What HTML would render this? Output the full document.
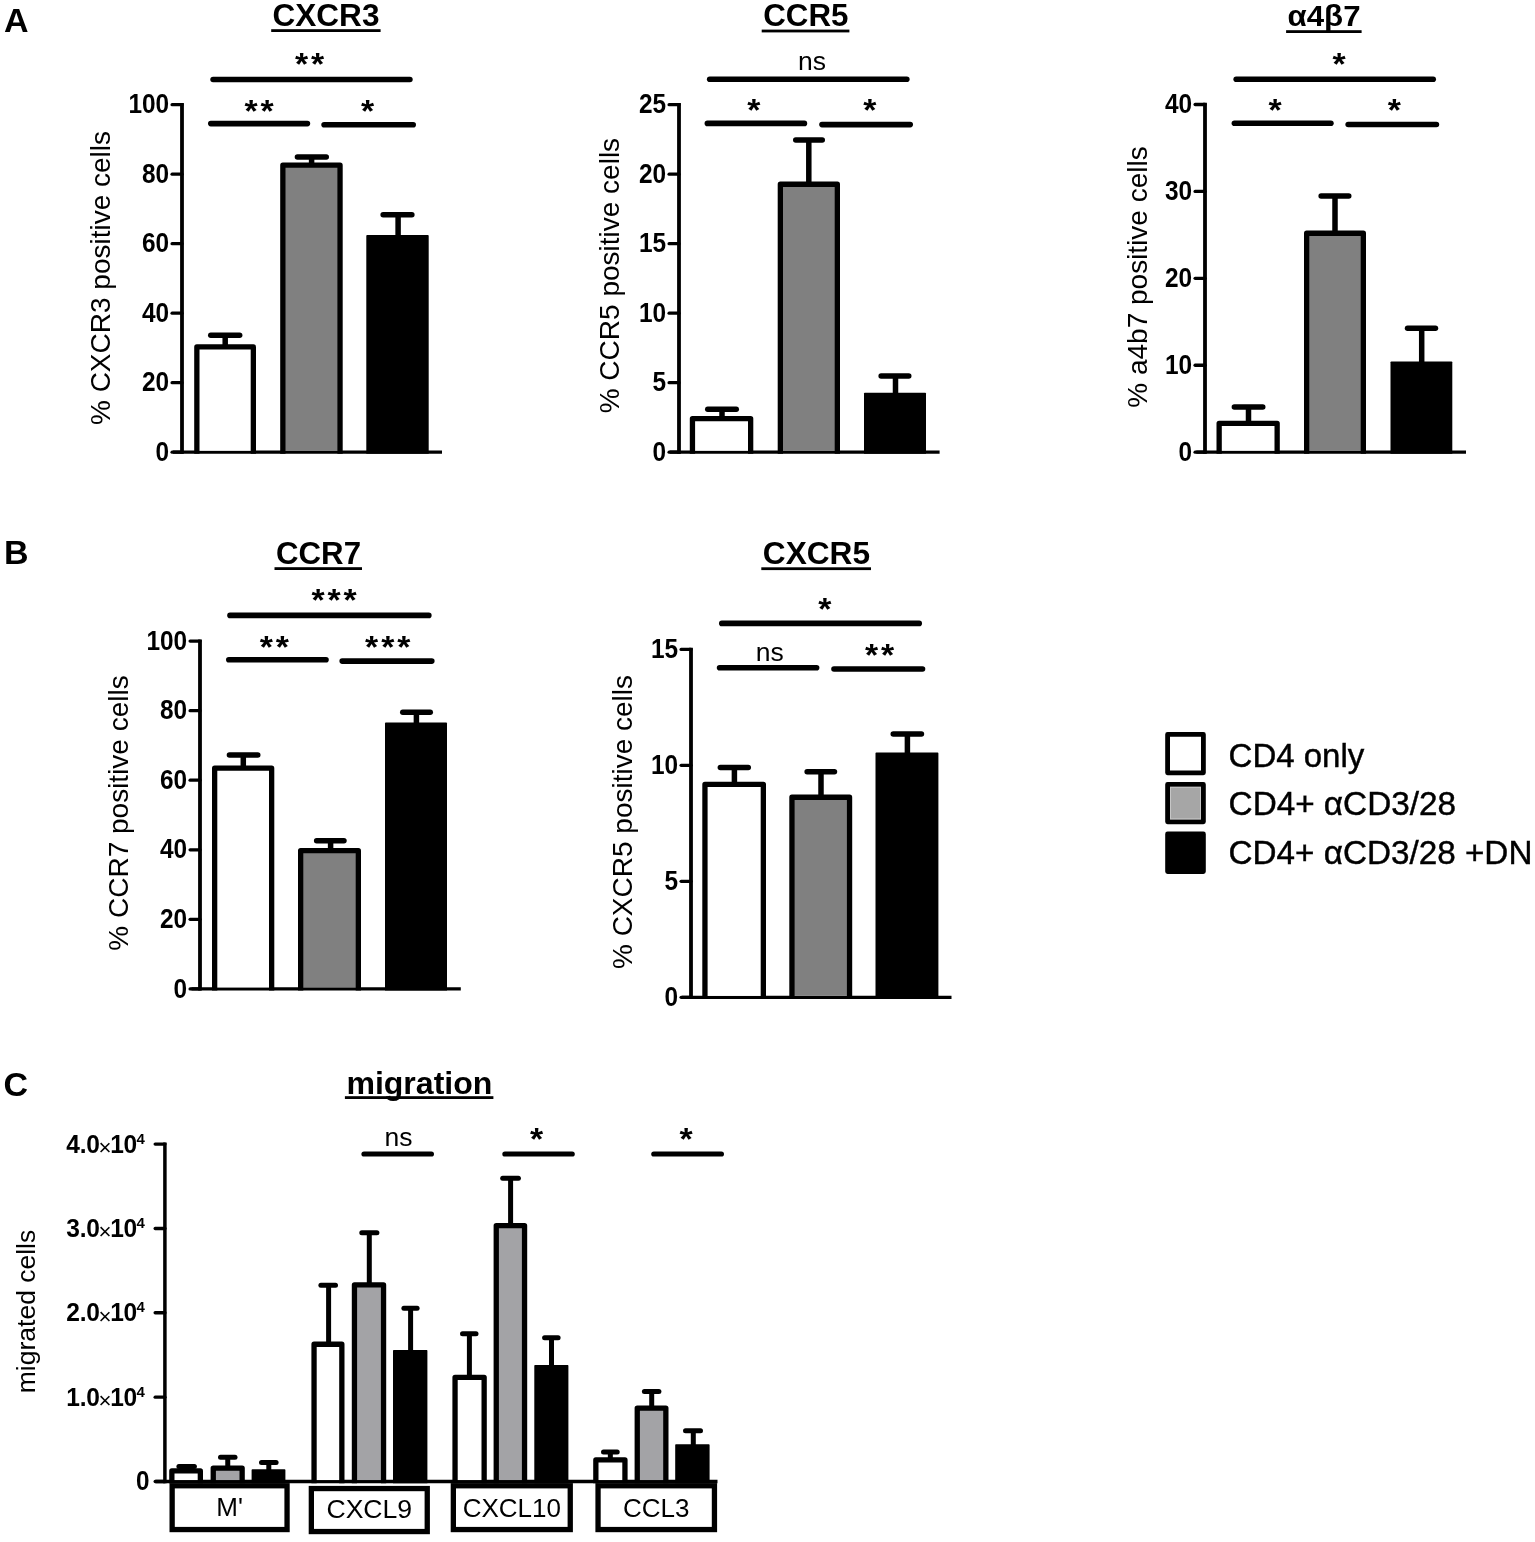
<!DOCTYPE html>
<html lang="en">
<head>
<meta charset="utf-8">
<title>Figure</title>
<style>
html,body{margin:0;padding:0;background:#fff;}
body{width:1535px;height:1542px;overflow:hidden;}
svg{display:block;}
svg text{font-family:"Liberation Sans", Arial, Helvetica, sans-serif;fill:#000;}
</style>
</head>
<body>
<svg width="1535" height="1542" viewBox="0 0 1535 1542">
<rect width="1535" height="1542" fill="#fff"/>
<text x="4.00" y="31.80" font-size="34" font-weight="bold" text-anchor="start" >A</text>
<text x="326.00" y="26.40" font-size="31" font-weight="bold" text-anchor="middle" textLength="106.9" lengthAdjust="spacingAndGlyphs">CXCR3</text>
<rect x="271.20" y="29.20" width="109.40" height="2.8" fill="#000"/>
<path d="M182.00 103.05V453.85" stroke="#000" stroke-width="3.8" fill="none"/>
<path d="M173.00 452.20H442.00" stroke="#000" stroke-width="3.3" fill="none"/>
<path d="M172.10 452.20H182.00" stroke="#000" stroke-width="3.3" stroke-linecap="round" fill="none"/>
<text transform="translate(169.10 460.80) scale(0.872 1)" font-size="28" font-weight="bold" text-anchor="end">0</text>
<path d="M172.10 382.70H182.00" stroke="#000" stroke-width="3.3" stroke-linecap="round" fill="none"/>
<text transform="translate(169.10 391.30) scale(0.872 1)" font-size="28" font-weight="bold" text-anchor="end">20</text>
<path d="M172.10 313.20H182.00" stroke="#000" stroke-width="3.3" stroke-linecap="round" fill="none"/>
<text transform="translate(169.10 321.80) scale(0.872 1)" font-size="28" font-weight="bold" text-anchor="end">40</text>
<path d="M172.10 243.70H182.00" stroke="#000" stroke-width="3.3" stroke-linecap="round" fill="none"/>
<text transform="translate(169.10 252.30) scale(0.872 1)" font-size="28" font-weight="bold" text-anchor="end">60</text>
<path d="M172.10 174.20H182.00" stroke="#000" stroke-width="3.3" stroke-linecap="round" fill="none"/>
<text transform="translate(169.10 182.80) scale(0.872 1)" font-size="28" font-weight="bold" text-anchor="end">80</text>
<path d="M172.10 104.70H182.00" stroke="#000" stroke-width="3.3" stroke-linecap="round" fill="none"/>
<text transform="translate(169.10 113.30) scale(0.872 1)" font-size="28" font-weight="bold" text-anchor="end">100</text>
<rect x="196.85" y="346.95" width="56.50" height="103.80" fill="#fff"/>
<path d="M196.85 453.85V346.95H253.35V453.85" fill="none" stroke="#000" stroke-width="5.3" stroke-linejoin="round"/>
<path d="M225.20 346.30V335.20" stroke="#000" stroke-width="5.5" fill="none"/>
<path d="M210.75 335.20H239.65" stroke="#000" stroke-width="5.5" stroke-linecap="round" fill="none"/>
<rect x="282.85" y="165.15" width="57.20" height="285.60" fill="#808080"/>
<path d="M282.85 453.85V165.15H340.05V453.85" fill="none" stroke="#000" stroke-width="5.3" stroke-linejoin="round"/>
<path d="M311.60 164.50V157.00" stroke="#000" stroke-width="5.5" fill="none"/>
<path d="M297.45 157.00H326.25" stroke="#000" stroke-width="5.5" stroke-linecap="round" fill="none"/>
<path d="M366.30 453.85V235.90Q366.30 235.10 367.10 235.10H427.90Q428.70 235.10 428.70 235.90V453.85Z" fill="#000"/>
<path d="M398.10 237.10V214.80" stroke="#000" stroke-width="5.5" fill="none"/>
<path d="M383.15 214.80H411.85" stroke="#000" stroke-width="5.5" stroke-linecap="round" fill="none"/>
<path d="M213.10 79.50H409.90" stroke="#000" stroke-width="5.6" stroke-linecap="round" fill="none"/>
<path d="M210.80 123.60H307.40" stroke="#000" stroke-width="5.6" stroke-linecap="round" fill="none"/>
<path d="M324.10 124.70H413.20" stroke="#000" stroke-width="5.6" stroke-linecap="round" fill="none"/>
<text transform="translate(311.13 74.50) scale(1.08 1)" font-size="31.3" font-weight="bold" text-anchor="middle" letter-spacing="2.65">**</text>
<text transform="translate(260.43 122.00) scale(1.08 1)" font-size="31.3" font-weight="bold" text-anchor="middle" letter-spacing="2.65">**</text>
<text transform="translate(367.70 122.00) scale(1.08 1)" font-size="31.3" font-weight="bold" text-anchor="middle" letter-spacing="0">*</text>
<text transform="translate(110.20 278.00) rotate(-90)" font-size="28" text-anchor="middle" >% CXCR3 positive cells</text>
<text x="805.80" y="26.40" font-size="31" font-weight="bold" text-anchor="middle" textLength="85.2" lengthAdjust="spacingAndGlyphs">CCR5</text>
<rect x="761.70" y="29.60" width="87.70" height="2.8" fill="#000"/>
<path d="M679.00 103.05V453.85" stroke="#000" stroke-width="3.8" fill="none"/>
<path d="M669.80 452.20H939.60" stroke="#000" stroke-width="3.3" fill="none"/>
<path d="M669.10 452.20H679.00" stroke="#000" stroke-width="3.3" stroke-linecap="round" fill="none"/>
<text transform="translate(666.10 460.80) scale(0.872 1)" font-size="28" font-weight="bold" text-anchor="end">0</text>
<path d="M669.10 382.70H679.00" stroke="#000" stroke-width="3.3" stroke-linecap="round" fill="none"/>
<text transform="translate(666.10 391.30) scale(0.872 1)" font-size="28" font-weight="bold" text-anchor="end">5</text>
<path d="M669.10 313.20H679.00" stroke="#000" stroke-width="3.3" stroke-linecap="round" fill="none"/>
<text transform="translate(666.10 321.80) scale(0.872 1)" font-size="28" font-weight="bold" text-anchor="end">10</text>
<path d="M669.10 243.70H679.00" stroke="#000" stroke-width="3.3" stroke-linecap="round" fill="none"/>
<text transform="translate(666.10 252.30) scale(0.872 1)" font-size="28" font-weight="bold" text-anchor="end">15</text>
<path d="M669.10 174.20H679.00" stroke="#000" stroke-width="3.3" stroke-linecap="round" fill="none"/>
<text transform="translate(666.10 182.80) scale(0.872 1)" font-size="28" font-weight="bold" text-anchor="end">20</text>
<path d="M669.10 104.70H679.00" stroke="#000" stroke-width="3.3" stroke-linecap="round" fill="none"/>
<text transform="translate(666.10 113.30) scale(0.872 1)" font-size="28" font-weight="bold" text-anchor="end">25</text>
<rect x="692.45" y="418.55" width="58.20" height="32.20" fill="#fff"/>
<path d="M692.45 453.85V418.55H750.65V453.85" fill="none" stroke="#000" stroke-width="5.3" stroke-linejoin="round"/>
<path d="M722.00 417.90V409.30" stroke="#000" stroke-width="5.5" fill="none"/>
<path d="M707.75 409.30H736.25" stroke="#000" stroke-width="5.5" stroke-linecap="round" fill="none"/>
<rect x="780.35" y="184.25" width="57.00" height="266.50" fill="#808080"/>
<path d="M780.35 453.85V184.25H837.35V453.85" fill="none" stroke="#000" stroke-width="5.3" stroke-linejoin="round"/>
<path d="M808.80 183.60V140.00" stroke="#000" stroke-width="5.5" fill="none"/>
<path d="M795.75 140.00H822.25" stroke="#000" stroke-width="5.5" stroke-linecap="round" fill="none"/>
<path d="M864.00 453.85V393.60Q864.00 392.80 864.80 392.80H925.20Q926.00 392.80 926.00 393.60V453.85Z" fill="#000"/>
<path d="M895.50 394.80V375.90" stroke="#000" stroke-width="5.5" fill="none"/>
<path d="M881.15 375.90H908.75" stroke="#000" stroke-width="5.5" stroke-linecap="round" fill="none"/>
<path d="M709.70 79.20H906.80" stroke="#000" stroke-width="5.6" stroke-linecap="round" fill="none"/>
<path d="M707.40 123.40H804.40" stroke="#000" stroke-width="5.6" stroke-linecap="round" fill="none"/>
<path d="M822.00 124.60H910.20" stroke="#000" stroke-width="5.6" stroke-linecap="round" fill="none"/>
<text x="812.00" y="69.80" font-size="26.5" font-weight="normal" text-anchor="middle" >ns</text>
<text transform="translate(753.80 121.00) scale(1.08 1)" font-size="31.3" font-weight="bold" text-anchor="middle" letter-spacing="0">*</text>
<text transform="translate(869.80 121.00) scale(1.08 1)" font-size="31.3" font-weight="bold" text-anchor="middle" letter-spacing="0">*</text>
<text transform="translate(618.60 275.60) rotate(-90)" font-size="28" text-anchor="middle" >% CCR5 positive cells</text>
<text x="1324.00" y="26.20" font-size="30" font-weight="bold" text-anchor="middle" textLength="73.0" lengthAdjust="spacingAndGlyphs">α4β7</text>
<rect x="1286.10" y="30.20" width="75.50" height="2.8" fill="#000"/>
<path d="M1205.00 102.85V453.85" stroke="#000" stroke-width="3.8" fill="none"/>
<path d="M1196.30 452.20H1466.00" stroke="#000" stroke-width="3.3" fill="none"/>
<path d="M1195.10 452.20H1205.00" stroke="#000" stroke-width="3.3" stroke-linecap="round" fill="none"/>
<text transform="translate(1192.10 460.80) scale(0.872 1)" font-size="28" font-weight="bold" text-anchor="end">0</text>
<path d="M1195.10 365.27H1205.00" stroke="#000" stroke-width="3.3" stroke-linecap="round" fill="none"/>
<text transform="translate(1192.10 373.88) scale(0.872 1)" font-size="28" font-weight="bold" text-anchor="end">10</text>
<path d="M1195.10 278.35H1205.00" stroke="#000" stroke-width="3.3" stroke-linecap="round" fill="none"/>
<text transform="translate(1192.10 286.95) scale(0.872 1)" font-size="28" font-weight="bold" text-anchor="end">20</text>
<path d="M1195.10 191.43H1205.00" stroke="#000" stroke-width="3.3" stroke-linecap="round" fill="none"/>
<text transform="translate(1192.10 200.03) scale(0.872 1)" font-size="28" font-weight="bold" text-anchor="end">30</text>
<path d="M1195.10 104.50H1205.00" stroke="#000" stroke-width="3.3" stroke-linecap="round" fill="none"/>
<text transform="translate(1192.10 113.10) scale(0.872 1)" font-size="28" font-weight="bold" text-anchor="end">40</text>
<rect x="1219.15" y="423.35" width="58.00" height="27.40" fill="#fff"/>
<path d="M1219.15 453.85V423.35H1277.15V453.85" fill="none" stroke="#000" stroke-width="5.3" stroke-linejoin="round"/>
<path d="M1248.50 422.70V407.00" stroke="#000" stroke-width="5.5" fill="none"/>
<path d="M1234.35 407.00H1262.75" stroke="#000" stroke-width="5.5" stroke-linecap="round" fill="none"/>
<rect x="1306.65" y="233.25" width="56.70" height="217.50" fill="#808080"/>
<path d="M1306.65 453.85V233.25H1363.35V453.85" fill="none" stroke="#000" stroke-width="5.3" stroke-linejoin="round"/>
<path d="M1335.00 232.60V196.00" stroke="#000" stroke-width="5.5" fill="none"/>
<path d="M1321.15 196.00H1348.75" stroke="#000" stroke-width="5.5" stroke-linecap="round" fill="none"/>
<path d="M1390.50 453.85V362.30Q1390.50 361.50 1391.30 361.50H1451.50Q1452.30 361.50 1452.30 362.30V453.85Z" fill="#000"/>
<path d="M1421.70 363.50V328.20" stroke="#000" stroke-width="5.5" fill="none"/>
<path d="M1407.55 328.20H1435.45" stroke="#000" stroke-width="5.5" stroke-linecap="round" fill="none"/>
<path d="M1236.20 79.20H1433.20" stroke="#000" stroke-width="5.6" stroke-linecap="round" fill="none"/>
<path d="M1234.40 123.30H1330.90" stroke="#000" stroke-width="5.6" stroke-linecap="round" fill="none"/>
<path d="M1348.20 124.50H1436.40" stroke="#000" stroke-width="5.6" stroke-linecap="round" fill="none"/>
<text transform="translate(1339.00 75.20) scale(1.08 1)" font-size="31.3" font-weight="bold" text-anchor="middle" letter-spacing="0">*</text>
<text transform="translate(1275.00 121.00) scale(1.08 1)" font-size="31.3" font-weight="bold" text-anchor="middle" letter-spacing="0">*</text>
<text transform="translate(1394.40 121.00) scale(1.08 1)" font-size="31.3" font-weight="bold" text-anchor="middle" letter-spacing="0">*</text>
<text transform="translate(1146.80 277.00) rotate(-90)" font-size="28" text-anchor="middle" >% a4b7 positive cells</text>
<text x="4.00" y="564.00" font-size="34" font-weight="bold" text-anchor="start" >B</text>
<text x="318.50" y="563.90" font-size="31" font-weight="bold" text-anchor="middle" textLength="85.0" lengthAdjust="spacingAndGlyphs">CCR7</text>
<rect x="274.50" y="567.20" width="87.50" height="2.8" fill="#000"/>
<path d="M200.00 639.45V990.55" stroke="#000" stroke-width="3.8" fill="none"/>
<path d="M191.50 988.90H460.80" stroke="#000" stroke-width="3.3" fill="none"/>
<path d="M190.10 988.90H200.00" stroke="#000" stroke-width="3.3" stroke-linecap="round" fill="none"/>
<text transform="translate(187.10 997.50) scale(0.872 1)" font-size="28" font-weight="bold" text-anchor="end">0</text>
<path d="M190.10 919.34H200.00" stroke="#000" stroke-width="3.3" stroke-linecap="round" fill="none"/>
<text transform="translate(187.10 927.94) scale(0.872 1)" font-size="28" font-weight="bold" text-anchor="end">20</text>
<path d="M190.10 849.78H200.00" stroke="#000" stroke-width="3.3" stroke-linecap="round" fill="none"/>
<text transform="translate(187.10 858.38) scale(0.872 1)" font-size="28" font-weight="bold" text-anchor="end">40</text>
<path d="M190.10 780.22H200.00" stroke="#000" stroke-width="3.3" stroke-linecap="round" fill="none"/>
<text transform="translate(187.10 788.82) scale(0.872 1)" font-size="28" font-weight="bold" text-anchor="end">60</text>
<path d="M190.10 710.66H200.00" stroke="#000" stroke-width="3.3" stroke-linecap="round" fill="none"/>
<text transform="translate(187.10 719.26) scale(0.872 1)" font-size="28" font-weight="bold" text-anchor="end">80</text>
<path d="M190.10 641.10H200.00" stroke="#000" stroke-width="3.3" stroke-linecap="round" fill="none"/>
<text transform="translate(187.10 649.70) scale(0.872 1)" font-size="28" font-weight="bold" text-anchor="end">100</text>
<rect x="214.65" y="768.15" width="57.00" height="219.30" fill="#fff"/>
<path d="M214.65 990.55V768.15H271.65V990.55" fill="none" stroke="#000" stroke-width="5.3" stroke-linejoin="round"/>
<path d="M243.30 767.50V755.00" stroke="#000" stroke-width="5.5" fill="none"/>
<path d="M229.45 755.00H257.75" stroke="#000" stroke-width="5.5" stroke-linecap="round" fill="none"/>
<rect x="300.65" y="850.65" width="57.70" height="136.80" fill="#808080"/>
<path d="M300.65 990.55V850.65H358.35V990.55" fill="none" stroke="#000" stroke-width="5.3" stroke-linejoin="round"/>
<path d="M330.60 850.00V840.70" stroke="#000" stroke-width="5.5" fill="none"/>
<path d="M316.65 840.70H343.95" stroke="#000" stroke-width="5.5" stroke-linecap="round" fill="none"/>
<path d="M385.00 990.55V723.40Q385.00 722.60 385.80 722.60H446.20Q447.00 722.60 447.00 723.40V990.55Z" fill="#000"/>
<path d="M416.40 724.60V712.30" stroke="#000" stroke-width="5.5" fill="none"/>
<path d="M402.75 712.30H430.25" stroke="#000" stroke-width="5.5" stroke-linecap="round" fill="none"/>
<path d="M230.00 615.40H428.80" stroke="#000" stroke-width="5.6" stroke-linecap="round" fill="none"/>
<path d="M228.80 659.80H326.00" stroke="#000" stroke-width="5.6" stroke-linecap="round" fill="none"/>
<path d="M342.20 661.10H431.80" stroke="#000" stroke-width="5.6" stroke-linecap="round" fill="none"/>
<text transform="translate(335.43 610.50) scale(1.08 1)" font-size="31.3" font-weight="bold" text-anchor="middle" letter-spacing="2.65">***</text>
<text transform="translate(275.73 657.50) scale(1.08 1)" font-size="31.3" font-weight="bold" text-anchor="middle" letter-spacing="2.65">**</text>
<text transform="translate(389.13 657.50) scale(1.08 1)" font-size="31.3" font-weight="bold" text-anchor="middle" letter-spacing="2.65">***</text>
<text transform="translate(128.30 813.00) rotate(-90)" font-size="28" text-anchor="middle" >% CCR7 positive cells</text>
<text x="816.40" y="563.90" font-size="31" font-weight="bold" text-anchor="middle" textLength="107.2" lengthAdjust="spacingAndGlyphs">CXCR5</text>
<rect x="761.30" y="567.30" width="109.70" height="2.8" fill="#000"/>
<path d="M691.00 647.75V998.95" stroke="#000" stroke-width="3.8" fill="none"/>
<path d="M682.00 997.30H951.50" stroke="#000" stroke-width="3.3" fill="none"/>
<path d="M681.10 997.30H691.00" stroke="#000" stroke-width="3.3" stroke-linecap="round" fill="none"/>
<text transform="translate(678.10 1005.90) scale(0.872 1)" font-size="28" font-weight="bold" text-anchor="end">0</text>
<path d="M681.10 881.33H691.00" stroke="#000" stroke-width="3.3" stroke-linecap="round" fill="none"/>
<text transform="translate(678.10 889.93) scale(0.872 1)" font-size="28" font-weight="bold" text-anchor="end">5</text>
<path d="M681.10 765.37H691.00" stroke="#000" stroke-width="3.3" stroke-linecap="round" fill="none"/>
<text transform="translate(678.10 773.97) scale(0.872 1)" font-size="28" font-weight="bold" text-anchor="end">10</text>
<path d="M681.10 649.40H691.00" stroke="#000" stroke-width="3.3" stroke-linecap="round" fill="none"/>
<text transform="translate(678.10 658.00) scale(0.872 1)" font-size="28" font-weight="bold" text-anchor="end">15</text>
<rect x="704.95" y="784.45" width="58.40" height="211.40" fill="#fff"/>
<path d="M704.95 998.95V784.45H763.35V998.95" fill="none" stroke="#000" stroke-width="5.3" stroke-linejoin="round"/>
<path d="M734.40 783.80V767.60" stroke="#000" stroke-width="5.5" fill="none"/>
<path d="M720.35 767.60H748.25" stroke="#000" stroke-width="5.5" stroke-linecap="round" fill="none"/>
<rect x="791.95" y="797.25" width="57.60" height="198.60" fill="#808080"/>
<path d="M791.95 998.95V797.25H849.55V998.95" fill="none" stroke="#000" stroke-width="5.3" stroke-linejoin="round"/>
<path d="M821.00 796.60V771.70" stroke="#000" stroke-width="5.5" fill="none"/>
<path d="M807.15 771.70H834.45" stroke="#000" stroke-width="5.5" stroke-linecap="round" fill="none"/>
<path d="M875.50 998.95V753.40Q875.50 752.60 876.30 752.60H937.60Q938.40 752.60 938.40 753.40V998.95Z" fill="#000"/>
<path d="M907.40 754.60V734.00" stroke="#000" stroke-width="5.5" fill="none"/>
<path d="M893.25 734.00H921.45" stroke="#000" stroke-width="5.5" stroke-linecap="round" fill="none"/>
<path d="M721.80 623.40H919.20" stroke="#000" stroke-width="5.6" stroke-linecap="round" fill="none"/>
<path d="M719.60 667.70H816.60" stroke="#000" stroke-width="5.6" stroke-linecap="round" fill="none"/>
<path d="M834.00 669.00H922.50" stroke="#000" stroke-width="5.6" stroke-linecap="round" fill="none"/>
<text transform="translate(824.90 619.80) scale(1.08 1)" font-size="31.3" font-weight="bold" text-anchor="middle" letter-spacing="0">*</text>
<text x="769.70" y="660.90" font-size="26.5" font-weight="normal" text-anchor="middle" >ns</text>
<text transform="translate(880.93 665.80) scale(1.08 1)" font-size="31.3" font-weight="bold" text-anchor="middle" letter-spacing="2.65">**</text>
<text transform="translate(631.80 822.00) rotate(-90)" font-size="28" text-anchor="middle" >% CXCR5 positive cells</text>
<rect x="1167.60" y="734.40" width="35.80" height="38.40" fill="#fff" stroke="#000" stroke-width="4.8" stroke-linejoin="round"/>
<rect x="1167.60" y="784.40" width="35.80" height="37.40" fill="#a6a6a6" stroke="#000" stroke-width="4.8" stroke-linejoin="round"/>
<rect x="1170.50" y="787.30" width="30.00" height="31.60" fill="none" stroke="#c6c6c6" stroke-width="1"/>
<rect x="1167.60" y="834.00" width="35.80" height="37.60" fill="#000" stroke="#000" stroke-width="4.8" stroke-linejoin="round"/>
<text x="1228.60" y="767.10" font-size="34" font-weight="normal" text-anchor="start" textLength="135.7" lengthAdjust="spacingAndGlyphs" stroke="#000" stroke-width="0.45">CD4 only</text>
<text x="1228.60" y="815.00" font-size="34" font-weight="normal" text-anchor="start" textLength="227.4" lengthAdjust="spacingAndGlyphs" stroke="#000" stroke-width="0.45">CD4+ αCD3/28</text>
<text x="1228.60" y="864.40" font-size="34" font-weight="normal" text-anchor="start" textLength="303.8" lengthAdjust="spacingAndGlyphs" stroke="#000" stroke-width="0.45">CD4+ αCD3/28 +DN</text>
<text x="3.40" y="1095.80" font-size="34" font-weight="bold" text-anchor="start" >C</text>
<text x="419.40" y="1093.60" font-size="31" font-weight="bold" text-anchor="middle" textLength="146.0" lengthAdjust="spacingAndGlyphs">migration</text>
<rect x="344.90" y="1096.20" width="148.50" height="2.8" fill="#000"/>
<path d="M164.9 1142.40V1483.20" stroke="#000" stroke-width="3.5" fill="none"/>
<path d="M155.5 1481.50H717.5" stroke="#000" stroke-width="3.4" fill="none"/>
<path d="M155.2 1481.50H164.9" stroke="#000" stroke-width="3.4" stroke-linecap="round" fill="none"/>
<text transform="translate(149.6 1490.10) scale(0.9 1)" font-size="27" font-weight="bold" text-anchor="end">0</text>
<path d="M155.2 1397.15H164.9" stroke="#000" stroke-width="3.4" stroke-linecap="round" fill="none"/>
<text transform="translate(66.3 1405.65) scale(0.97 1)" font-size="25.3" font-weight="bold" text-anchor="start" letter-spacing="-0.3">1.0<tspan font-size="23" font-weight="normal" dx="-1" dy="2.2">×</tspan><tspan dx="-1.2" dy="-2.2">10</tspan><tspan font-size="15.5" dx="-0.3" dy="-9">4</tspan></text>
<path d="M155.2 1312.80H164.9" stroke="#000" stroke-width="3.4" stroke-linecap="round" fill="none"/>
<text transform="translate(66.3 1321.30) scale(0.97 1)" font-size="25.3" font-weight="bold" text-anchor="start" letter-spacing="-0.3">2.0<tspan font-size="23" font-weight="normal" dx="-1" dy="2.2">×</tspan><tspan dx="-1.2" dy="-2.2">10</tspan><tspan font-size="15.5" dx="-0.3" dy="-9">4</tspan></text>
<path d="M155.2 1228.45H164.9" stroke="#000" stroke-width="3.4" stroke-linecap="round" fill="none"/>
<text transform="translate(66.3 1236.95) scale(0.97 1)" font-size="25.3" font-weight="bold" text-anchor="start" letter-spacing="-0.3">3.0<tspan font-size="23" font-weight="normal" dx="-1" dy="2.2">×</tspan><tspan dx="-1.2" dy="-2.2">10</tspan><tspan font-size="15.5" dx="-0.3" dy="-9">4</tspan></text>
<path d="M155.2 1144.10H164.9" stroke="#000" stroke-width="3.4" stroke-linecap="round" fill="none"/>
<text transform="translate(66.3 1152.60) scale(0.97 1)" font-size="25.3" font-weight="bold" text-anchor="start" letter-spacing="-0.3">4.0<tspan font-size="23" font-weight="normal" dx="-1" dy="2.2">×</tspan><tspan dx="-1.2" dy="-2.2">10</tspan><tspan font-size="15.5" dx="-0.3" dy="-9">4</tspan></text>
<text transform="translate(35.00 1311.50) rotate(-90)" font-size="26.5" text-anchor="middle" >migrated cells</text>
<rect x="171.85" y="1470.95" width="28.50" height="9.10" fill="#fff"/>
<path d="M171.85 1483.15V1470.95H200.35V1483.15" fill="none" stroke="#000" stroke-width="5.3" stroke-linejoin="round"/>
<path d="M186.65 1470.30V1466.60" stroke="#000" stroke-width="5.0" fill="none"/>
<path d="M178.90 1466.60H194.40" stroke="#000" stroke-width="5.0" stroke-linecap="round" fill="none"/>
<rect x="213.25" y="1468.05" width="28.90" height="12.00" fill="#a3a3a6"/>
<path d="M213.25 1483.15V1468.05H242.15V1483.15" fill="none" stroke="#000" stroke-width="5.3" stroke-linejoin="round"/>
<path d="M227.75 1467.40V1457.20" stroke="#000" stroke-width="5.0" fill="none"/>
<path d="M220.50 1457.20H235.00" stroke="#000" stroke-width="5.0" stroke-linecap="round" fill="none"/>
<path d="M251.60 1483.15V1470.10Q251.60 1469.30 252.40 1469.30H284.60Q285.40 1469.30 285.40 1470.10V1483.15Z" fill="#000"/>
<path d="M268.80 1471.30V1462.50" stroke="#000" stroke-width="5.0" fill="none"/>
<path d="M261.50 1462.50H276.10" stroke="#000" stroke-width="5.0" stroke-linecap="round" fill="none"/>
<rect x="314.05" y="1344.25" width="27.80" height="135.80" fill="#fff"/>
<path d="M314.05 1483.15V1344.25H341.85V1483.15" fill="none" stroke="#000" stroke-width="5.3" stroke-linejoin="round"/>
<path d="M328.60 1343.60V1285.30" stroke="#000" stroke-width="5.0" fill="none"/>
<path d="M320.90 1285.30H335.50" stroke="#000" stroke-width="5.0" stroke-linecap="round" fill="none"/>
<rect x="354.45" y="1284.85" width="29.10" height="195.20" fill="#a3a3a6"/>
<path d="M354.45 1483.15V1284.85H383.55V1483.15" fill="none" stroke="#000" stroke-width="5.3" stroke-linejoin="round"/>
<path d="M369.30 1284.20V1232.80" stroke="#000" stroke-width="5.0" fill="none"/>
<path d="M361.80 1232.80H376.90" stroke="#000" stroke-width="5.0" stroke-linecap="round" fill="none"/>
<path d="M393.00 1483.15V1350.80Q393.00 1350.00 393.80 1350.00H426.60Q427.40 1350.00 427.40 1350.80V1483.15Z" fill="#000"/>
<path d="M410.60 1352.00V1308.20" stroke="#000" stroke-width="5.0" fill="none"/>
<path d="M403.90 1308.20H417.10" stroke="#000" stroke-width="5.0" stroke-linecap="round" fill="none"/>
<rect x="455.05" y="1377.35" width="29.10" height="102.70" fill="#fff"/>
<path d="M455.05 1483.15V1377.35H484.15V1483.15" fill="none" stroke="#000" stroke-width="5.3" stroke-linejoin="round"/>
<path d="M469.40 1376.70V1333.70" stroke="#000" stroke-width="5.0" fill="none"/>
<path d="M462.50 1333.70H476.00" stroke="#000" stroke-width="5.0" stroke-linecap="round" fill="none"/>
<rect x="496.25" y="1225.55" width="28.30" height="254.50" fill="#a3a3a6"/>
<path d="M496.25 1483.15V1225.55H524.55V1483.15" fill="none" stroke="#000" stroke-width="5.3" stroke-linejoin="round"/>
<path d="M510.60 1224.90V1178.30" stroke="#000" stroke-width="5.0" fill="none"/>
<path d="M502.70 1178.30H518.40" stroke="#000" stroke-width="5.0" stroke-linecap="round" fill="none"/>
<path d="M534.30 1483.15V1365.80Q534.30 1365.00 535.10 1365.00H567.60Q568.40 1365.00 568.40 1365.80V1483.15Z" fill="#000"/>
<path d="M551.50 1367.00V1337.70" stroke="#000" stroke-width="5.0" fill="none"/>
<path d="M544.60 1337.70H558.10" stroke="#000" stroke-width="5.0" stroke-linecap="round" fill="none"/>
<rect x="595.85" y="1459.95" width="29.10" height="20.10" fill="#fff"/>
<path d="M595.85 1483.15V1459.95H624.95V1483.15" fill="none" stroke="#000" stroke-width="5.3" stroke-linejoin="round"/>
<path d="M610.35 1459.30V1452.00" stroke="#000" stroke-width="5.0" fill="none"/>
<path d="M603.50 1452.00H617.20" stroke="#000" stroke-width="5.0" stroke-linecap="round" fill="none"/>
<rect x="637.25" y="1408.05" width="28.60" height="72.00" fill="#a3a3a6"/>
<path d="M637.25 1483.15V1408.05H665.85V1483.15" fill="none" stroke="#000" stroke-width="5.3" stroke-linejoin="round"/>
<path d="M651.70 1407.40V1391.60" stroke="#000" stroke-width="5.0" fill="none"/>
<path d="M644.40 1391.60H658.90" stroke="#000" stroke-width="5.0" stroke-linecap="round" fill="none"/>
<path d="M675.20 1483.15V1445.00Q675.20 1444.20 676.00 1444.20H708.80Q709.60 1444.20 709.60 1445.00V1483.15Z" fill="#000"/>
<path d="M693.30 1446.20V1430.70" stroke="#000" stroke-width="5.0" fill="none"/>
<path d="M685.50 1430.70H700.50" stroke="#000" stroke-width="5.0" stroke-linecap="round" fill="none"/>
<path d="M364.00 1154.00H431.40" stroke="#000" stroke-width="5.2" stroke-linecap="round" fill="none"/>
<path d="M504.90 1154.00H572.20" stroke="#000" stroke-width="5.2" stroke-linecap="round" fill="none"/>
<path d="M653.80 1154.00H721.40" stroke="#000" stroke-width="5.2" stroke-linecap="round" fill="none"/>
<text x="398.60" y="1145.90" font-size="26.5" font-weight="normal" text-anchor="middle" >ns</text>
<text transform="translate(536.70 1149.90) scale(1.08 1)" font-size="31.3" font-weight="bold" text-anchor="middle" letter-spacing="0">*</text>
<text transform="translate(686.00 1149.90) scale(1.08 1)" font-size="31.3" font-weight="bold" text-anchor="middle" letter-spacing="0">*</text>
<rect x="172.15" y="1485.75" width="114.90" height="43.80" fill="#fff" stroke="#000" stroke-width="5.3"/>
<text x="229.60" y="1516.40" font-size="26" font-weight="normal" text-anchor="middle" >M'</text>
<rect x="311.35" y="1488.55" width="115.90" height="43.00" fill="#fff" stroke="#000" stroke-width="5.3"/>
<text x="369.30" y="1518.20" font-size="26.6" font-weight="normal" text-anchor="middle" >CXCL9</text>
<rect x="453.35" y="1485.75" width="116.90" height="43.80" fill="#fff" stroke="#000" stroke-width="5.3"/>
<text x="511.80" y="1516.60" font-size="26" font-weight="normal" text-anchor="middle" >CXCL10</text>
<rect x="598.05" y="1485.75" width="116.40" height="43.80" fill="#fff" stroke="#000" stroke-width="5.3"/>
<text x="656.25" y="1516.60" font-size="26" font-weight="normal" text-anchor="middle" >CCL3</text>
</svg>
</body>
</html>
